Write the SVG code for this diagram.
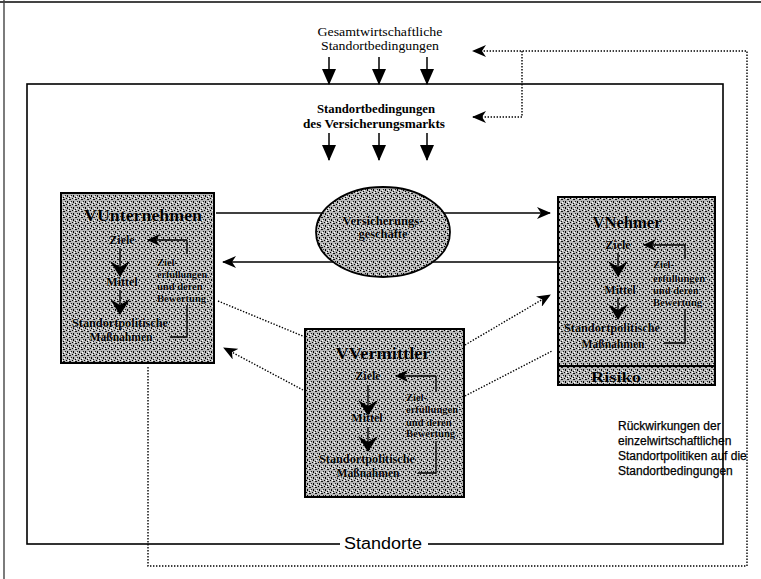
<svg xmlns="http://www.w3.org/2000/svg" width="761" height="579" viewBox="0 0 761 579">
  <style>
    .serif { font-family: "Liberation Serif", "Times New Roman", serif; fill: #000; }
    .top { font-size: 13px; }
    .mid { font-size: 13.5px; font-weight: bold; }
    .title { font-size: 16px; font-weight: bold; text-anchor: middle; }
    .lbl { font-size: 12px; font-weight: bold; text-anchor: middle; }
    .small { font-size: 10.5px; font-weight: bold; }
    .halo { stroke: #fff; stroke-width: 0.8; stroke-opacity: 0.5; paint-order: stroke; stroke-linejoin: round; }
    .box { fill: url(#stipple); stroke: #000; stroke-width: 2; }
    .solid { fill: none; stroke: #000; stroke-width: 1.5; }
    .inner { fill: none; stroke: #000; stroke-width: 1.3; }
    .dot { fill: none; stroke: #000; stroke-width: 1.4; stroke-dasharray: 1.4 1.6; }
    .sans { font-family: "Liberation Sans", Arial, sans-serif; fill: #000; }
    .note { font-size: 12px; stroke: #000; stroke-width: 0.25; }
  </style>
  <defs>
    <!-- grainy halftone fill used for the actor boxes and the ellipse -->
    <pattern id="stipple" width="6" height="6" patternUnits="userSpaceOnUse">
      <rect width="6" height="6" fill="#b8b8b8"/>
      <rect x="0" y="0" width="1" height="1" fill="#000"/>
      <rect x="3" y="1" width="2" height="1" fill="#111"/>
      <rect x="1" y="3" width="1" height="2" fill="#000"/>
      <rect x="5" y="3" width="1" height="1" fill="#222"/>
      <rect x="3" y="5" width="1" height="1" fill="#000"/>
      <rect x="2" y="0" width="1" height="1" fill="#fff"/>
      <rect x="4" y="4" width="1" height="1" fill="#fff"/>
    </pattern>
    <marker id="head" viewBox="0 0 14 12" refX="13" refY="6" markerWidth="14" markerHeight="12" markerUnits="userSpaceOnUse" orient="auto">
      <path d="M0,0 L14,6 L0,12 L4,6 Z" fill="#000"/>
    </marker>
    <marker id="tri" viewBox="0 0 16 14" refX="15" refY="7" markerWidth="16" markerHeight="14" markerUnits="userSpaceOnUse" orient="auto">
      <path d="M0,0 L16,7 L0,14 Z" fill="#000"/>
    </marker>
    <marker id="vee" viewBox="0 0 16 20" refX="15" refY="10" markerWidth="16" markerHeight="20" markerUnits="userSpaceOnUse" orient="auto">
      <path d="M0,0 L16,10 L0,20 L6,10 Z" fill="#000"/>
    </marker>
    <marker id="small" viewBox="0 0 13 12" refX="12" refY="6" markerWidth="13" markerHeight="12" markerUnits="userSpaceOnUse" orient="auto">
      <path d="M0,0 L13,6 L0,12 L4,6 Z" fill="#000"/>
    </marker>
  </defs>

  <rect width="761" height="579" fill="#fff"/>

  <!-- page edge -->
  <line x1="0" y1="2" x2="761" y2="2" stroke="#444" stroke-width="2"/>
  <line x1="4" y1="0" x2="4" y2="579" stroke="#444" stroke-width="1.4"/>

  <!-- location frame -->
  <g id="standorte">
    <rect x="27" y="84" width="696" height="460" fill="none" stroke="#000" stroke-width="1.6"/>
    <rect x="340" y="534" width="88" height="18" fill="#fff"/>
    <text class="sans" x="383" y="549" font-size="16" text-anchor="middle" textLength="78" lengthAdjust="spacingAndGlyphs">Standorte</text>
  </g>

  <!-- macro conditions -->
  <g id="gesamt">
    <text class="serif top" x="380" y="36" text-anchor="middle" textLength="125" lengthAdjust="spacingAndGlyphs">Gesamtwirtschaftliche</text>
    <text class="serif top" x="380" y="50" text-anchor="middle" textLength="118" lengthAdjust="spacingAndGlyphs">Standortbedingungen</text>
  </g>
  <g id="markt">
    <text class="serif mid" x="376" y="113" text-anchor="middle" textLength="118" lengthAdjust="spacingAndGlyphs">Standortbedingungen</text>
    <text class="serif mid" x="374" y="128" text-anchor="middle" textLength="142" lengthAdjust="spacingAndGlyphs">des Versicherungsmarkts</text>
  </g>

  <g id="connectors">
    <!-- condition arrows -->
    <line class="solid" x1="329" y1="57" x2="329" y2="84" marker-end="url(#tri)"/>
    <line class="solid" x1="379" y1="57" x2="379" y2="84" marker-end="url(#tri)"/>
    <line class="solid" x1="427" y1="57" x2="427" y2="84" marker-end="url(#tri)"/>
    <line class="solid" x1="329" y1="133" x2="329" y2="160" marker-end="url(#tri)"/>
    <line class="solid" x1="379" y1="133" x2="379" y2="160" marker-end="url(#tri)"/>
    <line class="solid" x1="427" y1="133" x2="427" y2="160" marker-end="url(#tri)"/>

    <!-- insurance business flows -->
    <line class="solid" x1="216" y1="213" x2="550" y2="213" marker-end="url(#head)"/>
    <line class="solid" x1="557" y1="262" x2="223" y2="262" marker-end="url(#head)"/>

    <!-- intermediary links -->
    <line class="dot" x1="218" y1="301" x2="305" y2="337"/>
    <line class="dot" x1="303" y1="390" x2="224" y2="348" marker-end="url(#head)"/>
    <line class="dot" x1="465" y1="345" x2="550" y2="295" marker-end="url(#head)"/>
    <line class="dot" x1="465" y1="396" x2="552" y2="351"/>

    <!-- feedback loops -->
    <path class="dot" d="M148,367 V566 H747 V51 H473" marker-end="url(#head)"/>
    <path class="dot" d="M522,51 V117 H473" marker-end="url(#head)"/>
  </g>

  <!-- insurance business -->
  <g id="geschaefte">
    <ellipse cx="383" cy="232" rx="67" ry="45" fill="url(#stipple)" stroke="#000" stroke-width="1.8"/>
    <text class="serif halo" x="383" y="225" font-size="11.5" font-weight="bold" text-anchor="middle" textLength="81" lengthAdjust="spacingAndGlyphs">Versicherungs-</text>
    <text class="serif halo" x="383" y="238" font-size="11.5" font-weight="bold" text-anchor="middle" textLength="49" lengthAdjust="spacingAndGlyphs">geschäfte</text>
  </g>

  <!-- insurer -->
  <g id="vunternehmen">
    <rect class="box" x="61" y="193" width="153" height="170"/>
    <text class="serif title halo" x="143" y="221" textLength="118" lengthAdjust="spacingAndGlyphs">VUnternehmen</text>
    <text class="serif lbl halo" x="122" y="244">Ziele</text>
    <line class="inner" x1="187" y1="240" x2="148" y2="240" marker-end="url(#small)"/>
    <line class="inner" x1="187" y1="240" x2="187" y2="254"/>
    <line class="inner" x1="120" y1="248" x2="120" y2="276" marker-end="url(#vee)"/>
    <text class="serif lbl halo" x="122" y="286">Mittel</text>
    <line class="inner" x1="120" y1="290" x2="120" y2="314" marker-end="url(#vee)"/>
    <text class="serif small halo" x="157" y="266">Ziel-</text>
    <text class="serif small halo" x="157" y="278" textLength="50" lengthAdjust="spacingAndGlyphs">erfüllungen</text>
    <text class="serif small halo" x="157" y="290">und deren</text>
    <text class="serif small halo" x="157" y="302">Bewertung</text>
    <path class="inner" d="M170,337 H187 V305"/>
    <text class="serif lbl halo" x="120" y="327" textLength="96" lengthAdjust="spacingAndGlyphs">Standortpolitische</text>
    <text class="serif lbl halo" x="121" y="341" textLength="63" lengthAdjust="spacingAndGlyphs">Maßnahmen</text>
  </g>

  <!-- policyholder -->
  <g id="vnehmer">
    <rect class="box" x="558" y="197" width="157" height="188"/>
    <line x1="558" y1="366" x2="715" y2="366" stroke="#000" stroke-width="2"/>
    <text class="serif title halo" x="627" y="228" textLength="69" lengthAdjust="spacingAndGlyphs">VNehmer</text>
    <text class="serif lbl halo" x="618" y="249">Ziele</text>
    <line class="inner" x1="685" y1="245" x2="644" y2="245" marker-end="url(#small)"/>
    <line class="inner" x1="685" y1="245" x2="685" y2="259"/>
    <line class="inner" x1="618" y1="253" x2="618" y2="276" marker-end="url(#vee)"/>
    <text class="serif lbl halo" x="620" y="294">Mittel</text>
    <line class="inner" x1="618" y1="298" x2="618" y2="319" marker-end="url(#vee)"/>
    <text class="serif small halo" x="653" y="268">Ziel-</text>
    <text class="serif small halo" x="653" y="282" textLength="52" lengthAdjust="spacingAndGlyphs">erfüllungen</text>
    <text class="serif small halo" x="653" y="294">und deren</text>
    <text class="serif small halo" x="653" y="306">Bewertung</text>
    <path class="inner" d="M664,343 H685 V309"/>
    <text class="serif lbl halo" x="612" y="332" textLength="96" lengthAdjust="spacingAndGlyphs">Standortpolitische</text>
    <text class="serif lbl halo" x="613" y="348" textLength="63" lengthAdjust="spacingAndGlyphs">Maßnahmen</text>
    <text class="serif halo" x="616" y="382" font-size="15" font-weight="bold" text-anchor="middle" textLength="50" lengthAdjust="spacingAndGlyphs">Risiko</text>
  </g>

  <!-- intermediary -->
  <g id="vvermittler">
    <rect class="box" x="305" y="329" width="159" height="168"/>
    <text class="serif title halo" x="383" y="359" textLength="95" lengthAdjust="spacingAndGlyphs">VVermittler</text>
    <text class="serif lbl halo" x="368" y="380">Ziele</text>
    <line class="inner" x1="436" y1="376" x2="396" y2="376" marker-end="url(#small)"/>
    <line class="inner" x1="436" y1="376" x2="436" y2="391"/>
    <line class="inner" x1="368" y1="385" x2="368" y2="415" marker-end="url(#vee)"/>
    <text class="serif lbl halo" x="367" y="422">Mittel</text>
    <line class="inner" x1="368" y1="427" x2="368" y2="451" marker-end="url(#vee)"/>
    <text class="serif small halo" x="406" y="401">Ziel-</text>
    <text class="serif small halo" x="406" y="413" textLength="52" lengthAdjust="spacingAndGlyphs">erfüllungen</text>
    <text class="serif small halo" x="406" y="426">und deren</text>
    <text class="serif small halo" x="406" y="437">Bewertung</text>
    <path class="inner" d="M418,473 H436 V441"/>
    <text class="serif lbl halo" x="367" y="463" textLength="96" lengthAdjust="spacingAndGlyphs">Standortpolitische</text>
    <text class="serif lbl halo" x="368" y="477" textLength="63" lengthAdjust="spacingAndGlyphs">Maßnahmen</text>
  </g>

  <!-- feedback note -->
  <g id="rueckwirkungen">
    <text class="sans note" x="618" y="430">Rückwirkungen der</text>
    <text class="sans note" x="618" y="445">einzelwirtschaftlichen</text>
    <text class="sans note" x="618" y="460">Standortpolitiken auf die</text>
    <text class="sans note" x="618" y="475">Standortbedingungen</text>
  </g>
</svg>
